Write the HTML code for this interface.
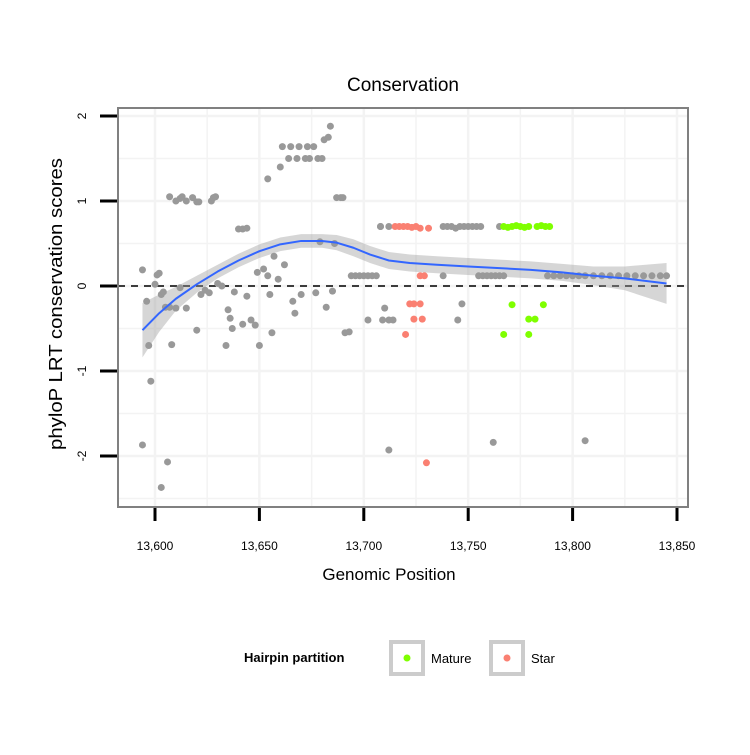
<!DOCTYPE html>
<html><head><meta charset="utf-8"><style>
body{margin:0;background:#fff;font-family:"Liberation Sans",sans-serif}
</style></head><body>
<svg id="chart" width="750" height="750" xmlns="http://www.w3.org/2000/svg" font-family="Liberation Sans, sans-serif">
<rect width="750" height="750" fill="#fff"/>
<text x="403" y="91" font-size="19" text-anchor="middle">Conservation</text>
<g id="grid"></g><g id="band"></g><g id="pts"></g><g id="fit"></g>
<rect x="118" y="108" width="570" height="399" fill="none" stroke="#808080" stroke-width="2"/>
<g id="axes"></g>
<text x="389" y="580" font-size="17" text-anchor="middle">Genomic Position</text>
<text transform="translate(62,304) rotate(-90)" font-size="18" text-anchor="middle" textLength="292" lengthAdjust="spacingAndGlyphs">phyloP LRT conservation scores</text>
<g>
<text x="244" y="662" font-size="13" font-weight="bold">Hairpin partition</text>
<rect x="391" y="642" width="32" height="32" fill="#fff" stroke="#ccc" stroke-width="4"/>
<circle cx="407" cy="658" r="3.5" fill="#7fff00"/>
<text x="431" y="663" font-size="13">Mature</text>
<rect x="491" y="642" width="32" height="32" fill="#fff" stroke="#ccc" stroke-width="4"/>
<circle cx="507" cy="658" r="3.5" fill="#fa8072"/>
<text x="531" y="663" font-size="13">Star</text>
</g>
</svg>
<script>
const xTicks=[13600,13650,13700,13750,13800,13850];
const xTickLabels=["13,600","13,650","13,700","13,750","13,800","13,850"];
const yTicks=[-2,-1,0,1,2];
const grayX=[13594,13594,13596,13597,13598,13600,13601,13602,13603,13604,13605,13607,13610,13603,13606,13608,13607,13610,13612,13613,13615,13618,13620,13621,13627,13628,13629,13612,13615,13620,13622,13624,13626,13630,13632,13634,13635,13636,13637,13638,13640,13642,13644,13642,13644,13646,13648,13649,13650,13652,13654,13654,13655,13656,13657,13659,13660,13661,13662,13664,13665,13666,13667,13668,13669,13670,13672,13673,13674,13676,13677,13678,13679,13680,13681,13682,13683,13684,13685,13686,13687,13689,13690,13691,13694,13696,13698,13700,13702,13704,13706,13708,13702,13709,13712,13714,13710,13712,13708,13712,13693,13738,13740,13742,13744,13746,13748,13750,13752,13754,13756,13745,13747,13738,13755,13757,13759,13761,13763,13765,13767,13762,13765,13806,13788,13791,13794,13797,13800,13803,13806,13810,13814,13818,13822,13826,13830,13834,13838,13842,13845];
const grayY=[0.19,-1.87,-0.18,-0.7,-1.12,0.02,0.13,0.15,-0.1,-0.07,-0.25,-0.25,-0.26,-2.37,-2.07,-0.69,1.05,1.0,1.03,1.05,1.0,1.04,0.99,0.99,1.0,1.04,1.05,-0.02,-0.26,-0.52,-0.1,-0.05,-0.08,0.03,0.0,-0.7,-0.28,-0.38,-0.5,-0.07,0.67,0.67,0.68,-0.45,-0.12,-0.4,-0.46,0.16,-0.7,0.2,1.26,0.12,-0.1,-0.55,0.35,0.08,1.4,1.64,0.25,1.5,1.64,-0.18,-0.32,1.5,1.64,-0.1,1.5,1.64,1.5,1.64,-0.08,1.5,0.52,1.5,1.72,-0.25,1.75,1.88,-0.06,0.5,1.04,1.04,1.04,-0.55,0.12,0.12,0.12,0.12,0.12,0.12,0.12,0.7,-0.4,-0.4,-0.4,-0.4,-0.26,-1.93,0.7,0.7,-0.54,0.7,0.7,0.7,0.68,0.7,0.7,0.7,0.7,0.7,0.7,-0.4,-0.21,0.12,0.12,0.12,0.12,0.12,0.12,0.12,0.12,-1.84,0.7,-1.82,0.12,0.12,0.12,0.12,0.12,0.12,0.12,0.12,0.12,0.12,0.12,0.12,0.12,0.12,0.12,0.12,0.12];
const starX=[13715,13717,13719,13721,13723,13725,13727,13731,13727,13729,13722,13724,13727,13724,13728,13720,13730];
const starY=[0.7,0.7,0.7,0.7,0.69,0.7,0.68,0.68,0.12,0.12,-0.21,-0.21,-0.21,-0.39,-0.39,-0.57,-2.08];
const matureX=[13767,13769,13771,13773,13775,13777,13779,13783,13785,13787,13789,13771,13786,13779,13782,13767,13779];
const matureY=[0.7,0.69,0.7,0.71,0.7,0.69,0.7,0.7,0.71,0.7,0.7,-0.22,-0.22,-0.39,-0.39,-0.57,-0.57];
const fitX=[13594,13602,13610,13620,13630,13640,13650,13660,13670,13680,13687,13695,13703,13712,13722,13735,13750,13765,13780,13795,13810,13825,13845];
const fitY=[-0.52,-0.32,-0.15,0.02,0.17,0.3,0.41,0.49,0.53,0.53,0.51,0.45,0.37,0.3,0.27,0.25,0.23,0.21,0.19,0.16,0.12,0.09,0.03];
const fitSE=[0.32,0.22,0.14,0.1,0.08,0.08,0.08,0.08,0.08,0.08,0.09,0.1,0.1,0.1,0.1,0.1,0.1,0.1,0.1,0.1,0.11,0.14,0.24];
const X=v=>155+(v-13600)*2.088, Y=v=>286-v*85;
const NS="http://www.w3.org/2000/svg";
function mk(t,p,a){const e=document.createElementNS(NS,t);for(const k in a)e.setAttribute(k,a[k]);p.appendChild(e);return e;}
const grid=document.getElementById('grid');
for(let i=0;i<xTicks.length;i++){for(const v of [xTicks[i],xTicks[i]-25]){const px=X(v);if(px<119||px>687)continue;const l=mk('line',grid,{x1:px,x2:px,y1:108,y2:507,stroke:'#f3f3f3','stroke-width':v===xTicks[i]?2.5:1.5});

}}
for(const t of yTicks){for(const v of [t,t-0.5]){const py=Y(v);if(py<109||py>506)continue;const l=mk('line',grid,{x1:118,x2:688,y1:py,y2:py,stroke:'#f3f3f3','stroke-width':v===t?2.5:1.5});

}}
const zl=mk('line',grid,{x1:118,x2:688,y1:Y(0),y2:Y(0),stroke:'#000','stroke-width':1.6,'stroke-dasharray':'7,6'});


let up=fitX.map((x,i)=>X(x)+','+Y(fitY[i]+fitSE[i])),lo=fitX.map((x,i)=>X(x)+','+Y(fitY[i]-fitSE[i])).reverse();
const band=mk('polygon',document.getElementById('band'),{points:up.concat(lo).join(' '),fill:'#999','fill-opacity':0.4});


const pts=document.getElementById('pts');
function draw(xs,ys,col,name){for(let i=0;i<xs.length;i++){const c=mk('circle',pts,{cx:X(xs[i]),cy:Y(ys[i]),r:3.5,fill:col});

}}
draw(grayX,grayY,'#999999','point-other');
draw(starX,starY,'#fa8072','point-star');
draw(matureX,matureY,'#7fff00','point-mature');
const fl=mk('polyline',document.getElementById('fit'),{points:fitX.map((x,i)=>X(x)+','+Y(fitY[i])).join(' '),fill:'none',stroke:'#3366ff','stroke-width':2,'stroke-linejoin':'round'});


const ax=document.getElementById('axes');
xTicks.forEach((v,i)=>{const t=mk('line',ax,{x1:X(v),x2:X(v),y1:508,y2:521,stroke:'#000','stroke-width':3});


const tx=mk('text',ax,{x:X(v),y:550,'font-size':12,'text-anchor':'middle'});tx.textContent=xTickLabels[i];

});
yTicks.forEach(v=>{const t=mk('line',ax,{x1:100,x2:117,y1:Y(v),y2:Y(v),stroke:'#000','stroke-width':3});


const tx=mk('text',ax,{transform:`translate(86,${Y(v)}) rotate(-90)`,'font-size':12,'text-anchor':'middle'});tx.textContent=String(v);

});
</script>
</body></html>
